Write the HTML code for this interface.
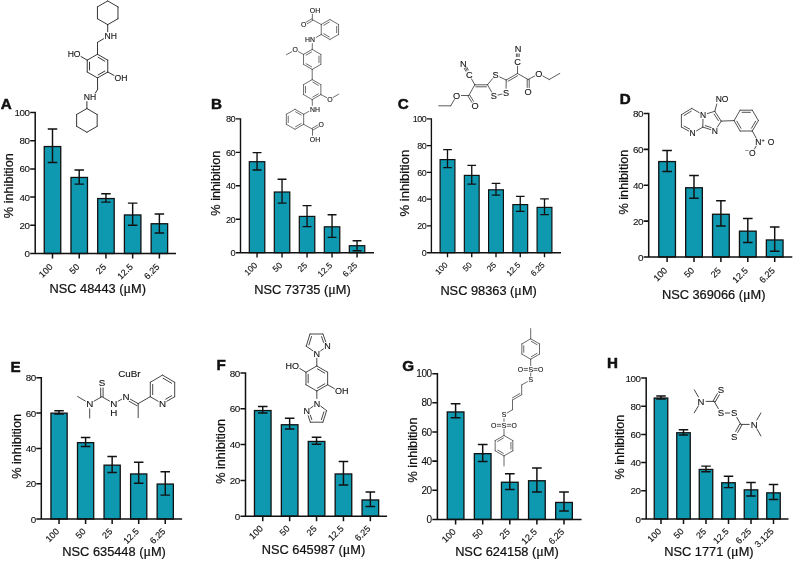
<!DOCTYPE html>
<html lang="en"><head><meta charset="utf-8"><title>Figure</title>
<style>
html,body{margin:0;padding:0;background:#fff}
svg{display:block}
text{font-family:"Liberation Sans","DejaVu Sans",sans-serif;fill:#111}
.ch text{stroke:#111;stroke-width:.22px}
.ch text.pl{stroke-width:.5px}
.ch text.tk{stroke-width:.1px}
.ch text.xt{stroke-width:.14px}
</style></head><body>
<svg width="793" height="561" viewBox="0 0 793 561">
<rect width="793" height="561" fill="#fff"/>
<g class="ch"><rect x="44.25" y="146.55" width="16.5" height="106.95" fill="#0e99b1" stroke="#111" stroke-width="1.3"/>
<path d="M52.5 128.9V162.4M47.75 128.9H57.25M47.75 162.4H57.25" stroke="#111" stroke-width="1.45" fill="none"/>
<rect x="70.97" y="177.45" width="16.5" height="76.05" fill="#0e99b1" stroke="#111" stroke-width="1.3"/>
<path d="M79.22 169.9V184.1M74.47 169.9H83.97M74.47 184.1H83.97" stroke="#111" stroke-width="1.45" fill="none"/>
<rect x="97.69" y="198.55" width="16.5" height="54.95" fill="#0e99b1" stroke="#111" stroke-width="1.3"/>
<path d="M105.94 193.8V202.1M101.19 193.8H110.69M101.19 202.1H110.69" stroke="#111" stroke-width="1.45" fill="none"/>
<rect x="124.41" y="214.95" width="16.5" height="38.55" fill="#0e99b1" stroke="#111" stroke-width="1.3"/>
<path d="M132.66 203.1V225.3M127.91 203.1H137.41M127.91 225.3H137.41" stroke="#111" stroke-width="1.45" fill="none"/>
<rect x="151.13" y="223.75" width="16.5" height="29.75" fill="#0e99b1" stroke="#111" stroke-width="1.3"/>
<path d="M159.38 214V232.9M154.63 214H164.13M154.63 232.9H164.13" stroke="#111" stroke-width="1.45" fill="none"/>
<path d="M35.2 111.75V253.5H176M35.2 253.5H30.2M35.2 225.3H30.2M35.2 197.1H30.2M35.2 168.9H30.2M35.2 140.7H30.2M35.2 112.5H30.2M52.5 253.5V258.5M79.22 253.5V258.5M105.94 253.5V258.5M132.66 253.5V258.5M159.38 253.5V258.5" stroke="#111" stroke-width="1.5" fill="none"/>
<text x="29.6" y="257" class="tk" font-size="9.8" text-anchor="end" letter-spacing="-0.45">0</text>
<text x="29.6" y="228.8" class="tk" font-size="9.8" text-anchor="end" letter-spacing="-0.45">20</text>
<text x="29.6" y="200.6" class="tk" font-size="9.8" text-anchor="end" letter-spacing="-0.45">40</text>
<text x="29.6" y="172.4" class="tk" font-size="9.8" text-anchor="end" letter-spacing="-0.45">60</text>
<text x="29.6" y="144.2" class="tk" font-size="9.8" text-anchor="end" letter-spacing="-0.45">80</text>
<text x="29.6" y="116" class="tk" font-size="9.8" text-anchor="end" letter-spacing="-0.45">100</text>
<text transform="translate(53.3 267.5) rotate(-45)" class="tk xt" font-size="9.05" text-anchor="end">100</text>
<text transform="translate(80.02 267.5) rotate(-45)" class="tk xt" font-size="9.05" text-anchor="end">50</text>
<text transform="translate(106.74 267.5) rotate(-45)" class="tk xt" font-size="9.05" text-anchor="end">25</text>
<text transform="translate(133.46 267.5) rotate(-45)" class="tk xt" font-size="9.05" text-anchor="end">12.5</text>
<text transform="translate(160.18 267.5) rotate(-45)" class="tk xt" font-size="9.05" text-anchor="end">6.25</text>
<text x="97.7" y="292.9" font-size="12.8" text-anchor="middle">NSC 48443 (<tspan font-family="'Liberation Serif','DejaVu Serif',serif" font-size="14">μ</tspan>M)</text>
<text transform="translate(12.8 185.7) rotate(-90)" font-size="12.7" text-anchor="middle">% inhibition</text>
<text x="0.7" y="108.5" font-size="15.2" font-weight="bold" class="pl">A</text></g>
<g class="ch"><rect x="249.31" y="161.71" width="15.48" height="90.99" fill="#0e99b1" stroke="#111" stroke-width="1.22"/>
<path d="M257.05 152.6V170M252.59 152.6H261.51M252.59 170H261.51" stroke="#111" stroke-width="1.36" fill="none"/>
<rect x="274.31" y="192.01" width="15.48" height="60.69" fill="#0e99b1" stroke="#111" stroke-width="1.22"/>
<path d="M282.05 179.3V203.1M277.59 179.3H286.51M277.59 203.1H286.51" stroke="#111" stroke-width="1.36" fill="none"/>
<rect x="299.31" y="216.41" width="15.48" height="36.29" fill="#0e99b1" stroke="#111" stroke-width="1.22"/>
<path d="M307.05 205.6V226.6M302.59 205.6H311.51M302.59 226.6H311.51" stroke="#111" stroke-width="1.36" fill="none"/>
<rect x="324.31" y="226.81" width="15.48" height="25.89" fill="#0e99b1" stroke="#111" stroke-width="1.22"/>
<path d="M332.05 214.7V237.4M327.59 214.7H336.51M327.59 237.4H336.51" stroke="#111" stroke-width="1.36" fill="none"/>
<rect x="349.31" y="245.71" width="15.48" height="6.99" fill="#0e99b1" stroke="#111" stroke-width="1.22"/>
<path d="M357.05 240.7V250.7M352.59 240.7H361.51M352.59 250.7H361.51" stroke="#111" stroke-width="1.36" fill="none"/>
<path d="M240.5 118.2V252.7H374M240.5 252.7H235.8M240.5 219.25H235.8M240.5 185.8H235.8M240.5 152.35H235.8M240.5 118.9H235.8M257.05 252.7V257.4M282.05 252.7V257.4M307.05 252.7V257.4M332.05 252.7V257.4M357.05 252.7V257.4" stroke="#111" stroke-width="1.41" fill="none"/>
<text x="235.24" y="255.99" class="tk" font-size="9.21" text-anchor="end" letter-spacing="-0.45">0</text>
<text x="235.24" y="222.54" class="tk" font-size="9.21" text-anchor="end" letter-spacing="-0.45">20</text>
<text x="235.24" y="189.09" class="tk" font-size="9.21" text-anchor="end" letter-spacing="-0.45">40</text>
<text x="235.24" y="155.64" class="tk" font-size="9.21" text-anchor="end" letter-spacing="-0.45">60</text>
<text x="235.24" y="122.19" class="tk" font-size="9.21" text-anchor="end" letter-spacing="-0.45">80</text>
<text transform="translate(257.8 265.86) rotate(-45)" class="tk xt" font-size="8.51" text-anchor="end">100</text>
<text transform="translate(282.8 265.86) rotate(-45)" class="tk xt" font-size="8.51" text-anchor="end">50</text>
<text transform="translate(307.8 265.86) rotate(-45)" class="tk xt" font-size="8.51" text-anchor="end">25</text>
<text transform="translate(332.8 265.86) rotate(-45)" class="tk xt" font-size="8.51" text-anchor="end">12.5</text>
<text transform="translate(357.8 265.86) rotate(-45)" class="tk xt" font-size="8.51" text-anchor="end">6.25</text>
<text x="302.5" y="293.9" font-size="12.8" text-anchor="middle">NSC 73735 (<tspan font-family="'Liberation Serif','DejaVu Serif',serif" font-size="14">μ</tspan>M)</text>
<text transform="translate(219.6 183.2) rotate(-90)" font-size="12.7" text-anchor="middle">% inhibition</text>
<text x="211" y="108.8" font-size="15.2" font-weight="bold" class="pl">B</text></g>
<g class="ch"><rect x="440.09" y="159.59" width="14.82" height="93.11" fill="#0e99b1" stroke="#111" stroke-width="1.18"/>
<path d="M447.5 149.6V167.7M443.18 149.6H451.82M443.18 167.7H451.82" stroke="#111" stroke-width="1.32" fill="none"/>
<rect x="464.34" y="175.39" width="14.82" height="77.31" fill="#0e99b1" stroke="#111" stroke-width="1.18"/>
<path d="M471.75 165.4V184.1M467.43 165.4H476.07M467.43 184.1H476.07" stroke="#111" stroke-width="1.32" fill="none"/>
<rect x="488.59" y="189.79" width="14.82" height="62.91" fill="#0e99b1" stroke="#111" stroke-width="1.18"/>
<path d="M496 183.3V195.2M491.68 183.3H500.32M491.68 195.2H500.32" stroke="#111" stroke-width="1.32" fill="none"/>
<rect x="512.84" y="204.59" width="14.82" height="48.11" fill="#0e99b1" stroke="#111" stroke-width="1.18"/>
<path d="M520.25 196.3V211.4M515.93 196.3H524.57M515.93 211.4H524.57" stroke="#111" stroke-width="1.32" fill="none"/>
<rect x="537.09" y="207.39" width="14.82" height="45.31" fill="#0e99b1" stroke="#111" stroke-width="1.18"/>
<path d="M544.5 198.8V214.7M540.18 198.8H548.82M540.18 214.7H548.82" stroke="#111" stroke-width="1.32" fill="none"/>
<path d="M431.4 118.22V252.7H561M431.4 252.7H426.85M431.4 225.94H426.85M431.4 199.18H426.85M431.4 172.42H426.85M431.4 145.66H426.85M431.4 118.9H426.85M447.5 252.7V257.25M471.75 252.7V257.25M496 252.7V257.25M520.25 252.7V257.25M544.5 252.7V257.25" stroke="#111" stroke-width="1.36" fill="none"/>
<text x="426.3" y="255.88" class="tk" font-size="8.92" text-anchor="end" letter-spacing="-0.45">0</text>
<text x="426.3" y="229.12" class="tk" font-size="8.92" text-anchor="end" letter-spacing="-0.45">20</text>
<text x="426.3" y="202.36" class="tk" font-size="8.92" text-anchor="end" letter-spacing="-0.45">40</text>
<text x="426.3" y="175.6" class="tk" font-size="8.92" text-anchor="end" letter-spacing="-0.45">60</text>
<text x="426.3" y="148.84" class="tk" font-size="8.92" text-anchor="end" letter-spacing="-0.45">80</text>
<text x="426.3" y="122.08" class="tk" font-size="8.92" text-anchor="end" letter-spacing="-0.45">100</text>
<text transform="translate(448.23 265.44) rotate(-45)" class="tk xt" font-size="8.24" text-anchor="end">100</text>
<text transform="translate(472.48 265.44) rotate(-45)" class="tk xt" font-size="8.24" text-anchor="end">50</text>
<text transform="translate(496.73 265.44) rotate(-45)" class="tk xt" font-size="8.24" text-anchor="end">25</text>
<text transform="translate(520.98 265.44) rotate(-45)" class="tk xt" font-size="8.24" text-anchor="end">12.5</text>
<text transform="translate(545.23 265.44) rotate(-45)" class="tk xt" font-size="8.24" text-anchor="end">6.25</text>
<text x="488.6" y="294.7" font-size="12.8" text-anchor="middle">NSC 98363 (<tspan font-family="'Liberation Serif','DejaVu Serif',serif" font-size="14">μ</tspan>M)</text>
<text transform="translate(408.6 183.1) rotate(-90)" font-size="13.05" text-anchor="middle">% inhibition</text>
<text x="397.7" y="108.5" font-size="15.2" font-weight="bold" class="pl">C</text></g>
<g class="ch"><rect x="658.76" y="161.56" width="16.69" height="95.44" fill="#0e99b1" stroke="#111" stroke-width="1.31"/>
<path d="M667.1 150.6V171.5M662.3 150.6H671.9M662.3 171.5H671.9" stroke="#111" stroke-width="1.46" fill="none"/>
<rect x="685.66" y="187.76" width="16.69" height="69.24" fill="#0e99b1" stroke="#111" stroke-width="1.31"/>
<path d="M694 175.6V198.3M689.2 175.6H698.8M689.2 198.3H698.8" stroke="#111" stroke-width="1.46" fill="none"/>
<rect x="712.56" y="214.26" width="16.69" height="42.74" fill="#0e99b1" stroke="#111" stroke-width="1.31"/>
<path d="M720.9 200.8V226.1M716.1 200.8H725.7M716.1 226.1H725.7" stroke="#111" stroke-width="1.46" fill="none"/>
<rect x="739.46" y="231.16" width="16.69" height="25.84" fill="#0e99b1" stroke="#111" stroke-width="1.31"/>
<path d="M747.8 218.5V242.5M743 218.5H752.6M743 242.5H752.6" stroke="#111" stroke-width="1.46" fill="none"/>
<rect x="766.36" y="239.96" width="16.69" height="17.04" fill="#0e99b1" stroke="#111" stroke-width="1.31"/>
<path d="M774.7 227.1V251.3M769.9 227.1H779.5M769.9 251.3H779.5" stroke="#111" stroke-width="1.46" fill="none"/>
<path d="M648.7 112.74V257H792.3M648.7 257H643.65M648.7 221.12H643.65M648.7 185.25H643.65M648.7 149.38H643.65M648.7 113.5H643.65M667.1 257V262.05M694 257V262.05M720.9 257V262.05M747.8 257V262.05M774.7 257V262.05" stroke="#111" stroke-width="1.52" fill="none"/>
<text x="643.04" y="260.53" class="tk" font-size="9.9" text-anchor="end" letter-spacing="-0.45">0</text>
<text x="643.04" y="224.66" class="tk" font-size="9.9" text-anchor="end" letter-spacing="-0.45">20</text>
<text x="643.04" y="188.78" class="tk" font-size="9.9" text-anchor="end" letter-spacing="-0.45">40</text>
<text x="643.04" y="152.91" class="tk" font-size="9.9" text-anchor="end" letter-spacing="-0.45">60</text>
<text x="643.04" y="117.03" class="tk" font-size="9.9" text-anchor="end" letter-spacing="-0.45">80</text>
<text transform="translate(667.91 271.14) rotate(-45)" class="tk xt" font-size="9.14" text-anchor="end">100</text>
<text transform="translate(694.81 271.14) rotate(-45)" class="tk xt" font-size="9.14" text-anchor="end">50</text>
<text transform="translate(721.71 271.14) rotate(-45)" class="tk xt" font-size="9.14" text-anchor="end">25</text>
<text transform="translate(748.61 271.14) rotate(-45)" class="tk xt" font-size="9.14" text-anchor="end">12.5</text>
<text transform="translate(775.51 271.14) rotate(-45)" class="tk xt" font-size="9.14" text-anchor="end">6.25</text>
<text x="713.7" y="299" font-size="12.8" text-anchor="middle">NSC 369066 (<tspan font-family="'Liberation Serif','DejaVu Serif',serif" font-size="14">μ</tspan>M)</text>
<text transform="translate(627.6 182.1) rotate(-90)" font-size="12.7" text-anchor="middle">% inhibition</text>
<text x="619.7" y="104.2" font-size="15.2" font-weight="bold" class="pl">D</text></g>
<g class="ch"><rect x="50.95" y="413.15" width="16.2" height="105.85" fill="#0e99b1" stroke="#111" stroke-width="1.3"/>
<path d="M59.05 410.8V414M54.3 410.8H63.8M54.3 414H63.8" stroke="#111" stroke-width="1.45" fill="none"/>
<rect x="77.5" y="442.65" width="16.2" height="76.35" fill="#0e99b1" stroke="#111" stroke-width="1.3"/>
<path d="M85.6 437.5V446.5M80.85 437.5H90.35M80.85 446.5H90.35" stroke="#111" stroke-width="1.45" fill="none"/>
<rect x="104.05" y="465.15" width="16.2" height="53.85" fill="#0e99b1" stroke="#111" stroke-width="1.3"/>
<path d="M112.15 456.5V472.4M107.4 456.5H116.9M107.4 472.4H116.9" stroke="#111" stroke-width="1.45" fill="none"/>
<rect x="130.6" y="473.95" width="16.2" height="45.05" fill="#0e99b1" stroke="#111" stroke-width="1.3"/>
<path d="M138.7 462.3V483.3M133.95 462.3H143.45M133.95 483.3H143.45" stroke="#111" stroke-width="1.45" fill="none"/>
<rect x="157.15" y="484.05" width="16.2" height="34.95" fill="#0e99b1" stroke="#111" stroke-width="1.3"/>
<path d="M165.25 471.7V495.1M160.5 471.7H170M160.5 495.1H170" stroke="#111" stroke-width="1.45" fill="none"/>
<path d="M41.3 377.05V519H182.1M41.3 519H36.3M41.3 483.7H36.3M41.3 448.4H36.3M41.3 413.1H36.3M41.3 377.8H36.3M59.05 519V524M85.6 519V524M112.15 519V524M138.7 519V524M165.25 519V524" stroke="#111" stroke-width="1.5" fill="none"/>
<text x="35.7" y="522.5" class="tk" font-size="9.8" text-anchor="end" letter-spacing="-0.45">0</text>
<text x="35.7" y="487.2" class="tk" font-size="9.8" text-anchor="end" letter-spacing="-0.45">20</text>
<text x="35.7" y="451.9" class="tk" font-size="9.8" text-anchor="end" letter-spacing="-0.45">40</text>
<text x="35.7" y="416.6" class="tk" font-size="9.8" text-anchor="end" letter-spacing="-0.45">60</text>
<text x="35.7" y="381.3" class="tk" font-size="9.8" text-anchor="end" letter-spacing="-0.45">80</text>
<text transform="translate(59.85 532) rotate(-45)" class="tk xt" font-size="9.05" text-anchor="end">100</text>
<text transform="translate(86.4 532) rotate(-45)" class="tk xt" font-size="9.05" text-anchor="end">50</text>
<text transform="translate(112.95 532) rotate(-45)" class="tk xt" font-size="9.05" text-anchor="end">25</text>
<text transform="translate(139.5 532) rotate(-45)" class="tk xt" font-size="9.05" text-anchor="end">12.5</text>
<text transform="translate(166.05 532) rotate(-45)" class="tk xt" font-size="9.05" text-anchor="end">6.25</text>
<text x="114.1" y="556.4" font-size="12.8" text-anchor="middle">NSC 635448 (<tspan font-family="'Liberation Serif','DejaVu Serif',serif" font-size="14">μ</tspan>M)</text>
<text transform="translate(21.1 446.4) rotate(-90)" font-size="12.7" text-anchor="middle">% inhibition</text>
<text x="10.4" y="372.4" font-size="15.2" font-weight="bold" class="pl">E</text></g>
<g class="ch"><rect x="254.46" y="410.56" width="16.59" height="105.64" fill="#0e99b1" stroke="#111" stroke-width="1.31"/>
<path d="M262.75 406.5V413.1M257.95 406.5H267.55M257.95 413.1H267.55" stroke="#111" stroke-width="1.46" fill="none"/>
<rect x="281.36" y="424.76" width="16.59" height="91.44" fill="#0e99b1" stroke="#111" stroke-width="1.31"/>
<path d="M289.65 418.3V429M284.85 418.3H294.45M284.85 429H294.45" stroke="#111" stroke-width="1.46" fill="none"/>
<rect x="308.26" y="441.46" width="16.59" height="74.74" fill="#0e99b1" stroke="#111" stroke-width="1.31"/>
<path d="M316.55 437.2V444.3M311.75 437.2H321.35M311.75 444.3H321.35" stroke="#111" stroke-width="1.46" fill="none"/>
<rect x="335.16" y="473.96" width="16.59" height="42.24" fill="#0e99b1" stroke="#111" stroke-width="1.31"/>
<path d="M343.45 461.6V485M338.65 461.6H348.25M338.65 485H348.25" stroke="#111" stroke-width="1.46" fill="none"/>
<rect x="362.06" y="499.96" width="16.59" height="16.24" fill="#0e99b1" stroke="#111" stroke-width="1.31"/>
<path d="M370.35 492.1V506.5M365.55 492.1H375.15M365.55 506.5H375.15" stroke="#111" stroke-width="1.46" fill="none"/>
<path d="M245.5 372.24V516.2H387.1M245.5 516.2H240.45M245.5 480.4H240.45M245.5 444.6H240.45M245.5 408.8H240.45M245.5 373H240.45M262.75 516.2V521.25M289.65 516.2V521.25M316.55 516.2V521.25M343.45 516.2V521.25M370.35 516.2V521.25" stroke="#111" stroke-width="1.52" fill="none"/>
<text x="239.84" y="519.73" class="tk" font-size="9.9" text-anchor="end" letter-spacing="-0.45">0</text>
<text x="239.84" y="483.93" class="tk" font-size="9.9" text-anchor="end" letter-spacing="-0.45">20</text>
<text x="239.84" y="448.13" class="tk" font-size="9.9" text-anchor="end" letter-spacing="-0.45">40</text>
<text x="239.84" y="412.33" class="tk" font-size="9.9" text-anchor="end" letter-spacing="-0.45">60</text>
<text x="239.84" y="376.53" class="tk" font-size="9.9" text-anchor="end" letter-spacing="-0.45">80</text>
<text transform="translate(263.56 529.2) rotate(-45)" class="tk xt" font-size="9.14" text-anchor="end">100</text>
<text transform="translate(290.46 529.2) rotate(-45)" class="tk xt" font-size="9.14" text-anchor="end">50</text>
<text transform="translate(317.36 529.2) rotate(-45)" class="tk xt" font-size="9.14" text-anchor="end">25</text>
<text transform="translate(344.26 529.2) rotate(-45)" class="tk xt" font-size="9.14" text-anchor="end">12.5</text>
<text transform="translate(371.16 529.2) rotate(-45)" class="tk xt" font-size="9.14" text-anchor="end">6.25</text>
<text x="313.5" y="554.4" font-size="12.8" text-anchor="middle">NSC 645987 (<tspan font-family="'Liberation Serif','DejaVu Serif',serif" font-size="14">μ</tspan>M)</text>
<text transform="translate(224.6 451.4) rotate(-90)" font-size="12.7" text-anchor="middle">% inhibition</text>
<text x="216.5" y="370.1" font-size="15.2" font-weight="bold" class="pl">F</text></g>
<g class="ch"><rect x="447.26" y="411.96" width="16.67" height="107.44" fill="#0e99b1" stroke="#111" stroke-width="1.33"/>
<path d="M455.6 403.7V417.7M450.75 403.7H460.44M450.75 417.7H460.44" stroke="#111" stroke-width="1.48" fill="none"/>
<rect x="474.36" y="453.66" width="16.67" height="65.74" fill="#0e99b1" stroke="#111" stroke-width="1.33"/>
<path d="M482.7 444.5V461.6M477.85 444.5H487.55M477.85 461.6H487.55" stroke="#111" stroke-width="1.48" fill="none"/>
<rect x="501.46" y="482.26" width="16.67" height="37.14" fill="#0e99b1" stroke="#111" stroke-width="1.33"/>
<path d="M509.8 473.7V489.6M504.95 473.7H514.64M504.95 489.6H514.64" stroke="#111" stroke-width="1.48" fill="none"/>
<rect x="528.56" y="480.76" width="16.67" height="38.64" fill="#0e99b1" stroke="#111" stroke-width="1.33"/>
<path d="M536.9 467.9V492.1M532.05 467.9H541.75M532.05 492.1H541.75" stroke="#111" stroke-width="1.48" fill="none"/>
<rect x="555.66" y="502.46" width="16.67" height="16.94" fill="#0e99b1" stroke="#111" stroke-width="1.33"/>
<path d="M564 491.9V511M559.15 491.9H568.85M559.15 511H568.85" stroke="#111" stroke-width="1.48" fill="none"/>
<path d="M437.4 372.94V519.4H581.6M437.4 519.4H432.3M437.4 490.26H432.3M437.4 461.12H432.3M437.4 431.98H432.3M437.4 402.84H432.3M437.4 373.7H432.3M455.6 519.4V524.5M482.7 519.4V524.5M509.8 519.4V524.5M536.9 519.4V524.5M564 519.4V524.5" stroke="#111" stroke-width="1.53" fill="none"/>
<text x="431.69" y="522.97" class="tk" font-size="10" text-anchor="end" letter-spacing="-0.45">0</text>
<text x="431.69" y="493.83" class="tk" font-size="10" text-anchor="end" letter-spacing="-0.45">20</text>
<text x="431.69" y="464.69" class="tk" font-size="10" text-anchor="end" letter-spacing="-0.45">40</text>
<text x="431.69" y="435.55" class="tk" font-size="10" text-anchor="end" letter-spacing="-0.45">60</text>
<text x="431.69" y="406.41" class="tk" font-size="10" text-anchor="end" letter-spacing="-0.45">80</text>
<text x="431.69" y="377.27" class="tk" font-size="10" text-anchor="end" letter-spacing="-0.45">100</text>
<text transform="translate(456.42 532.4) rotate(-45)" class="tk xt" font-size="9.23" text-anchor="end">100</text>
<text transform="translate(483.52 532.4) rotate(-45)" class="tk xt" font-size="9.23" text-anchor="end">50</text>
<text transform="translate(510.62 532.4) rotate(-45)" class="tk xt" font-size="9.23" text-anchor="end">25</text>
<text transform="translate(537.72 532.4) rotate(-45)" class="tk xt" font-size="9.23" text-anchor="end">12.5</text>
<text transform="translate(564.82 532.4) rotate(-45)" class="tk xt" font-size="9.23" text-anchor="end">6.25</text>
<text x="506.9" y="556.4" font-size="12.8" text-anchor="middle">NSC 624158 (<tspan font-family="'Liberation Serif','DejaVu Serif',serif" font-size="14">μ</tspan>M)</text>
<text transform="translate(416.6 450) rotate(-90)" font-size="12.7" text-anchor="middle">% inhibition</text>
<text x="402.3" y="371.3" font-size="15.2" font-weight="bold" class="pl">G</text></g>
<g class="ch"><rect x="654.25" y="398.05" width="13.5" height="120.95" fill="#0e99b1" stroke="#111" stroke-width="1.3"/>
<path d="M661 396V399M656.25 396H665.75M656.25 399H665.75" stroke="#111" stroke-width="1.45" fill="none"/>
<rect x="676.75" y="432.75" width="13.5" height="86.25" fill="#0e99b1" stroke="#111" stroke-width="1.3"/>
<path d="M683.5 429.7V435M678.75 429.7H688.25M678.75 435H688.25" stroke="#111" stroke-width="1.45" fill="none"/>
<rect x="699.25" y="469.45" width="13.5" height="49.55" fill="#0e99b1" stroke="#111" stroke-width="1.3"/>
<path d="M706 466.1V471.7M701.25 466.1H710.75M701.25 471.7H710.75" stroke="#111" stroke-width="1.45" fill="none"/>
<rect x="721.75" y="482.75" width="13.5" height="36.25" fill="#0e99b1" stroke="#111" stroke-width="1.3"/>
<path d="M728.5 476.2V487.6M723.75 476.2H733.25M723.75 487.6H733.25" stroke="#111" stroke-width="1.45" fill="none"/>
<rect x="744.25" y="489.85" width="13.5" height="29.15" fill="#0e99b1" stroke="#111" stroke-width="1.3"/>
<path d="M751 482.5V495.9M746.25 482.5H755.75M746.25 495.9H755.75" stroke="#111" stroke-width="1.45" fill="none"/>
<rect x="766.75" y="492.85" width="13.5" height="26.15" fill="#0e99b1" stroke="#111" stroke-width="1.3"/>
<path d="M773.5 484.5V499.4M768.75 484.5H778.25M768.75 499.4H778.25" stroke="#111" stroke-width="1.45" fill="none"/>
<path d="M646.2 377.25V519H788.5M646.2 519H641.2M646.2 490.8H641.2M646.2 462.6H641.2M646.2 434.4H641.2M646.2 406.2H641.2M646.2 378H641.2M661 519V524M683.5 519V524M706 519V524M728.5 519V524M751 519V524M773.5 519V524" stroke="#111" stroke-width="1.5" fill="none"/>
<text x="640.6" y="522.5" class="tk" font-size="9.8" text-anchor="end" letter-spacing="-0.45">0</text>
<text x="640.6" y="494.3" class="tk" font-size="9.8" text-anchor="end" letter-spacing="-0.45">20</text>
<text x="640.6" y="466.1" class="tk" font-size="9.8" text-anchor="end" letter-spacing="-0.45">40</text>
<text x="640.6" y="437.9" class="tk" font-size="9.8" text-anchor="end" letter-spacing="-0.45">60</text>
<text x="640.6" y="409.7" class="tk" font-size="9.8" text-anchor="end" letter-spacing="-0.45">80</text>
<text x="640.6" y="381.5" class="tk" font-size="9.8" text-anchor="end" letter-spacing="-0.45">100</text>
<text transform="translate(661.8 532) rotate(-45)" class="tk xt" font-size="9.05" text-anchor="end">100</text>
<text transform="translate(684.3 532) rotate(-45)" class="tk xt" font-size="9.05" text-anchor="end">50</text>
<text transform="translate(706.8 532) rotate(-45)" class="tk xt" font-size="9.05" text-anchor="end">25</text>
<text transform="translate(729.3 532) rotate(-45)" class="tk xt" font-size="9.05" text-anchor="end">12.5</text>
<text transform="translate(751.8 532) rotate(-45)" class="tk xt" font-size="9.05" text-anchor="end">6.25</text>
<text transform="translate(774.3 532) rotate(-45)" class="tk xt" font-size="9.05" text-anchor="end">3.125</text>
<text x="708.9" y="556.4" font-size="12.8" text-anchor="middle">NSC 1771 (<tspan font-family="'Liberation Serif','DejaVu Serif',serif" font-size="14">μ</tspan>M)</text>
<text transform="translate(623.6 447.1) rotate(-90)" font-size="12.7" text-anchor="middle">% inhibition</text>
<text x="607.1" y="367.7" font-size="15.2" font-weight="bold" class="pl">H</text></g>
<g><path d="M107.7 0.95L117.96 6.88M117.96 6.88L117.96 18.73M117.96 18.73L107.7 24.65M107.7 24.65L97.44 18.73M97.44 18.73L97.44 6.88M97.44 6.88L107.7 0.95M107.7 24.65L107.7 31.7M103.58 38.76L97.5 42.4M97.5 42.4L97.5 54.25M97.5 54.25L107.76 60.17M98.11 57.26L104.86 61.15M107.76 60.17L107.76 72.02M107.76 72.02L97.5 77.95M104.86 71.05L98.11 74.94M97.5 77.95L87.24 72.02M87.24 72.02L87.24 60.17M89.54 70L89.54 62.2M87.24 60.17L97.5 54.25M87.24 60.17L81 56.52M107.76 72.02L114.04 75.48M97.5 77.95L97.6 89.3M97.6 89.3L95.3 93.2M86.9 101.6L86.9 108.55M86.9 108.55L97.16 114.48M97.16 114.48L97.16 126.33M97.16 126.33L86.9 132.25M86.9 132.25L76.64 126.33M76.64 126.33L76.64 114.48M76.64 114.48L86.9 108.55" stroke="#2b2b2b" stroke-width="0.95" fill="none" stroke-linecap="round"/><g style="fill:#1c1c1c;stroke:#1c1c1c;stroke-width:.12px"><text x="104.6" y="39.38" font-size="8.6">NH</text><text x="83.8" y="100.08" font-size="8.6">NH</text><text x="67.65" y="57.38" font-size="8.6">HO</text><text x="114.55" y="80.68" font-size="8.6">OH</text></g></g>
<g><path d="M329.9 19.5L338.56 24.5M338.56 24.5L338.56 34.5M336.66 26.3L336.66 32.7M338.56 34.5L329.9 39.5M329.9 39.5L321.24 34.5M329.29 36.96L323.75 33.75M321.24 34.5L321.24 24.5M321.24 24.5L329.9 19.5M323.75 25.25L329.29 22.04M321.24 24.5L312.3 19.6M312.3 19.6L312.42 14.2M311.81 18.78L306.29 22.09M312.79 20.42L307.26 23.72M321.24 34.5L316.13 37.48M312.38 43.6L312.2 49.4M312.2 49.4L320.86 54.4M320.86 54.4L320.86 64.4M318.96 56.2L318.96 62.6M320.86 64.4L312.2 69.4M312.2 69.4L303.54 64.4M311.59 66.86L306.05 63.65M303.54 64.4L303.54 54.4M303.54 54.4L312.2 49.4M306.05 55.15L311.59 51.94M303.54 54.4L298.28 51.59M291.95 51.64L286.4 54.7M312.2 69.4L312.2 79.6M312.2 79.6L320.86 84.6M312.81 82.14L318.35 85.35M320.86 84.6L320.86 94.6M320.86 94.6L312.2 99.6M318.35 93.85L312.81 97.06M312.2 99.6L303.54 94.6M303.54 94.6L303.54 84.6M305.44 92.8L305.44 86.4M303.54 84.6L312.2 79.6M320.86 94.6L326.71 97.64M333.01 97.48L338.6 94.2M312.2 99.6L312.38 105.4M308.83 111.44L303.66 114.3M295 109.3L303.66 114.3M295.61 111.84L301.15 115.05M303.66 114.3L303.66 124.3M303.66 124.3L295 129.3M301.15 123.55L295.61 126.76M295 129.3L286.34 124.3M286.34 124.3L286.34 114.3M288.24 122.5L288.24 116.1M286.34 114.3L295 109.3M303.66 124.3L312.5 129.2M312.97 130.02L318.47 126.87M312.03 128.38L317.52 125.22M312.5 129.2L312.5 135.3" stroke="#4a4a4a" stroke-width="0.8" fill="none" stroke-linecap="round"/><g style="fill:#1c1c1c;stroke:#1c1c1c;stroke-width:.12px"><text x="309.82" y="12.77" font-size="6.9">OH</text><text x="300.92" y="27.27" font-size="6.9">O</text><text x="305.03" y="42.07" font-size="6.9">HN</text><text x="292.42" y="52.37" font-size="6.9">O</text><text x="327.22" y="101.77" font-size="6.9">O</text><text x="310.01" y="111.87" font-size="6.9">NH</text><text x="318.52" y="126.67" font-size="6.9">O</text><text x="309.82" y="141.67" font-size="6.9">OH</text></g></g>
<g><path d="M438.7 105.8L450.7 105.8M450.7 105.8L454.33 99.56M461.4 95.5L468.8 95.5M467.95 96.03L471.87 102.34M469.65 94.97L473.57 101.28M468.8 95.5L474.8 84.8M474.8 84.8L471.5 78.9M467.04 70.63L465.56 67.77M468.28 69.98L466.8 67.13M465.8 71.27L464.32 68.42M474.8 84.8L487.5 84.8M475.8 86.8L486.5 86.8M487.5 84.8L492.53 78.64M499.76 76.99L506.2 80M506.2 80L506.07 88.3M501.93 94.04L497.97 95.06M491.58 92.01L487.5 84.8M506.2 80L517.5 73.5M508.06 81.24L517.63 75.73M517.5 73.5L517.56 66M517.76 56.6L517.84 53.9M519.15 56.65L519.24 53.94M516.36 56.56L516.45 53.85M517.5 73.5L528.2 79.5M527.2 79.5L527.2 87.5M529.2 79.5L529.2 87.5M528.2 79.5L534.66 76.03M542.92 76.06L549.2 79.5M549.2 79.5L559.8 73.4" stroke="#333" stroke-width="0.8" fill="none" stroke-linecap="round"/><g style="fill:#1c1c1c;stroke:#1c1c1c;stroke-width:.12px"><text x="453.12" y="98.79" font-size="9.2">O</text><text x="471.62" y="109.09" font-size="9.2">O</text><text x="465.88" y="78.09" font-size="9.2">C</text><text x="460.08" y="66.89" font-size="9.2">N</text><text x="492.43" y="78.29" font-size="9.2">S</text><text x="502.93" y="96.29" font-size="9.2">S</text><text x="490.83" y="99.39" font-size="9.2">S</text><text x="514.28" y="64.59" font-size="9.2">C</text><text x="514.68" y="52.49" font-size="9.2">N</text><text x="524.62" y="95.49" font-size="9.2">O</text><text x="535.22" y="77.09" font-size="9.2">O</text></g></g>
<g><path d="M681.4 114.7L691.8 108.4M684.12 115.51L691.25 111.19M691.8 108.4L699.2 112.66M702.99 119.4L702.8 127.1M702.8 127.1L696.46 130.89M688.66 131.02L681.4 127M689.68 129.18L684.09 126.09M681.4 127L681.4 114.7M707.4 113.58L714.8 111.3M714.8 111.3L721.2 121.1M714.09 114.05L718.4 120.65M721.2 121.1L717.33 127.11M710.61 129.55L702.8 127.1M711.24 127.55L705.25 125.67M714.8 111.3L716.8 104M721.2 121.1L734.1 120.6M734.1 120.6L740.1 110.2M740.1 110.2L752.3 110.2M742.01 112.3L750.39 112.3M752.3 110.2L758.4 120.6M758.4 120.6L752.3 131M755.62 121.19L751.46 128.29M752.3 131L740.1 131M740.1 131L734.1 120.6M740.96 128.29L736.87 121.21M752.3 131L756.25 138.25M756.17 146.11L754.53 148.99" stroke="#333" stroke-width="0.85" fill="none" stroke-linecap="round"/><g style="fill:#1c1c1c;stroke:#1c1c1c;stroke-width:.12px"><text x="700.03" y="117.94" font-size="8.5">N</text><text x="689.53" y="136.24" font-size="8.5">N</text><text x="711.83" y="133.94" font-size="8.5">N</text><text x="715.63" y="102.04" font-size="8.5">NO</text><text x="755.33" y="145.24" font-size="8.5">N</text><text x="761.4" y="141.6" font-size="5.5" text-anchor="start">+</text><text x="767.69" y="145.24" font-size="8.5">O</text><text x="748.99" y="155.94" font-size="8.5">O</text><text x="745.2" y="153.2" font-size="6.5" text-anchor="start">−</text></g></g>
<g><path d="M77.6 396.5L85.39 401.07M89.7 408.8L89.7 418M94.05 401.14L101.9 396.7M103.1 396.7L103.1 387.9M100.7 396.7L100.7 387.9M101.9 396.7L109.57 401.11M118.26 401.15L121.64 399.25M130.37 399.23L138.2 403.6M129.2 401.33L137.03 405.7M138.2 403.6L138.2 417.6M138.2 403.6L150.3 396.7M150.3 396.7L150.3 382.3M152.7 394.62L152.7 384.38M150.3 382.3L162.5 375.1M162.5 375.1L174.7 382.3M163.08 378.23L171.68 383.31M174.7 382.3L174.7 396.7M174.7 396.7L166.82 401.29M171.69 395.67L165.61 399.21M158.18 401.29L150.3 396.7" stroke="#333" stroke-width="0.9" fill="none" stroke-linecap="round"/><g style="fill:#1c1c1c;stroke:#1c1c1c;stroke-width:.12px"><text x="86.16" y="407.11" font-size="9.8">N</text><text x="98.63" y="386.41" font-size="9.8">S</text><text x="110.36" y="407.11" font-size="9.8">N</text><text x="110.36" y="415.71" font-size="9.8">H</text><text x="122.46" y="400.31" font-size="9.8">N</text><text x="158.96" y="407.31" font-size="9.8">N</text><text x="129.3" y="377" font-size="9.8" text-anchor="middle">CuBr</text></g></g>
<g><path d="M316.8 366L327.63 372.25M317.41 368.89L324.82 373.17M327.63 372.25L327.63 384.75M327.63 384.75L316.8 391M324.82 383.83L317.41 388.11M316.8 391L305.97 384.75M305.97 384.75L305.97 372.25M308.17 382.78L308.17 374.22M305.97 372.25L316.8 366M316.8 366L316.8 358.3M320.75 350.78L323.45 348.92M325.74 341.7L322.9 334M323.67 342.46L321.52 336.61M322.9 334L310 334M310 334L306.2 346.2M311.51 336.53L308.89 344.97M306.2 346.2L312.85 350.78M316.8 391L316.86 398.5M313.11 406.24L310.49 408.26M308.19 415.76L310.3 422.2M310.28 415.08L311.78 419.64M310.3 422.2L322.9 422.2M322.9 422.2L326.6 410.6M321.4 419.66L323.91 411.81M326.6 410.6L320.74 406.19M305.97 372.25L299.71 368.48M327.63 384.75L334.43 388.62" stroke="#333" stroke-width="0.9" fill="none" stroke-linecap="round"/><g style="fill:#1c1c1c;stroke:#1c1c1c;stroke-width:.12px"><text x="313.55" y="356.72" font-size="9">N</text><text x="324.15" y="349.42" font-size="9">N</text><text x="313.65" y="406.52" font-size="9">N</text><text x="303.45" y="414.42" font-size="9">N</text><text x="285.6" y="369.22" font-size="9">HO</text><text x="335.1" y="394.22" font-size="9">OH</text></g></g>
<g><path d="M530.7 338.8L530.7 328.6M530.7 338.8L539.53 343.9M531.31 341.34L537.03 344.65M539.53 343.9L539.53 354.1M539.53 354.1L530.7 359.2M537.03 353.35L531.31 356.66M530.7 359.2L521.87 354.1M521.87 354.1L521.87 343.9M523.77 352.3L523.77 345.7M521.87 343.9L530.7 338.8M530.7 359.2L530.7 365.6M527.5 368.45L524.1 368.45M527.5 370.35L524.1 370.35M533.9 370.35L537.2 370.35M533.9 368.45L537.2 368.45M530.7 373.2L530.7 376M527.39 381.67L521.7 384.9M521.7 384.9L521.7 394.7M521.7 394.7L512.5 400M519.89 393.55L512.42 397.85M512.5 400L512.5 409.7M512.5 409.7L507.24 412.92M504 418.7L504 421.5M500.8 424.35L497.2 424.35M500.8 426.25L497.2 426.25M507.2 426.25L510.7 426.25M507.2 424.35L510.7 424.35M504 429.1L504 435.5M504 435.5L512.83 440.6M512.83 440.6L512.83 450.8M510.93 442.4L510.93 449M512.83 450.8L504 455.9M504 455.9L495.17 450.8M503.39 453.36L497.67 450.05M495.17 450.8L495.17 440.6M495.17 440.6L504 435.5M497.67 441.35L503.39 438.04M504 455.9L504 466" stroke="#444" stroke-width="0.8" fill="none" stroke-linecap="round"/><g style="fill:#1c1c1c;stroke:#1c1c1c;stroke-width:.12px"><text x="528.4" y="371.87" font-size="6.9">S</text><text x="517.82" y="371.87" font-size="6.9">O</text><text x="538.12" y="371.87" font-size="6.9">O</text><text x="528.4" y="382.27" font-size="6.9">S</text><text x="501.7" y="417.37" font-size="6.9">S</text><text x="501.7" y="427.77" font-size="6.9">S</text><text x="490.92" y="427.77" font-size="6.9">O</text><text x="511.62" y="427.77" font-size="6.9">O</text></g></g>
<g><path d="M694.3 389.8L698.45 396.98M694.3 412.8L698.42 405.8M706.1 401.4L714.2 401.4M715.2 401.98L719.35 394.79M713.2 400.82L717.35 393.64M714.2 401.4L718.35 408.58M725.3 413L729.8 413M736.78 417.4L740.9 424.4M739.9 423.84L735.68 431.39M741.9 424.96L737.69 432.51M740.9 424.4L749.2 424.4M756.86 419.99L760.9 413M756.84 428.82L760.9 435.9" stroke="#2e2e2e" stroke-width="0.9" fill="none" stroke-linecap="round"/><g style="fill:#1c1c1c;stroke:#1c1c1c;stroke-width:.12px"><text x="697.53" y="404.84" font-size="9.6">N</text><text x="717.7" y="393.24" font-size="9.6">S</text><text x="717.7" y="416.44" font-size="9.6">S</text><text x="731" y="416.44" font-size="9.6">S</text><text x="731" y="439.84" font-size="9.6">S</text><text x="750.83" y="427.84" font-size="9.6">N</text></g></g>
</svg>
</body></html>
